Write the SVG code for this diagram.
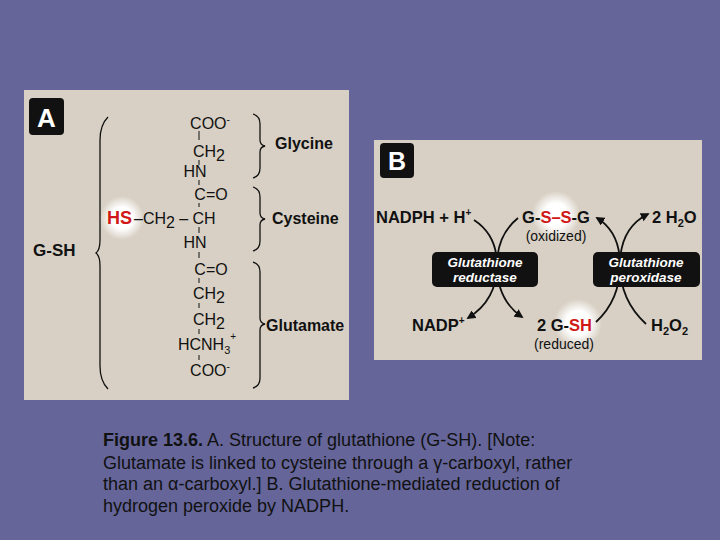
<svg xmlns="http://www.w3.org/2000/svg" width="720" height="540" viewBox="0 0 720 540">
<defs>
<style>
text{font-family:"Liberation Sans",Arial,sans-serif;fill:#111}
.c{font-size:16px;text-anchor:middle}
.b{font-weight:bold;font-size:16px}
.bb{font-weight:bold;font-size:16.5px}
.r{fill:#d01818}
.br{fill:none;stroke:#111;stroke-width:1.3}
.ar{fill:none;stroke:#111;stroke-width:1.8}
.box{fill:#111}
.bx{fill:#fff;font-weight:bold;font-style:italic;font-size:13.5px;text-anchor:middle}
.cap{font-size:18px}
</style>
<radialGradient id="g"><stop offset="0.5" stop-color="#fff"/><stop offset="1" stop-color="#fff" stop-opacity="0"/></radialGradient>
<marker id="m" viewBox="0 0 10 10" refX="8" refY="5" markerWidth="5" markerHeight="5" orient="auto-start-reverse"><path d="M0,0L10,5L0,10z" fill="#111"/></marker>
</defs>
<rect width="720" height="540" fill="#65659a"/>
<g id="panelA">
<rect x="24" y="90" width="325" height="310" fill="#d8d0c4"/>
<rect x="29" y="98" width="35" height="37" rx="4" class="box"/>
<text x="46.5" y="127" style="fill:#fff;font-weight:bold;font-size:26px;text-anchor:middle">A</text>
<text x="33" y="256" class="b" style="font-size:17px">G-SH</text>
<path class="br" d="M108,117 Q100,125 100,140 L100,240 Q100,250 96,253 Q100,256 100,266 L100,366 Q100,381 108,389"/>
<circle cx="122" cy="218" r="22" fill="url(#g)"/>
<g class="c">
<text x="210" y="129">COO<tspan dy="-6" font-size="10">-</tspan></text>
<text x="209" y="157">CH<tspan dy="4">2</tspan></text>
<text x="195" y="177">HN</text>
<text x="211" y="200">C=O</text>
<text x="204" y="224">CH</text>
<text x="195" y="248">HN</text>
<text x="211" y="275">C=O</text>
<text x="209" y="299">CH<tspan dy="4">2</tspan></text>
<text x="209" y="325">CH<tspan dy="4">2</tspan></text>
<text x="207" y="350">HCNH<tspan dy="4" font-size="11">3</tspan><tspan dy="-14" font-size="10">+</tspan></text>
<text x="210" y="376">COO<tspan dy="-6" font-size="10">-</tspan></text>
</g>
<text x="107" y="224" class="b r" style="font-size:18px">HS</text>
<text x="134" y="224" style="font-size:16px">–CH<tspan dy="4">2</tspan><tspan dy="-4"> – </tspan></text>
<g stroke="#111" stroke-width="1">
<path d="M199,131V140M199,160V165M199,180V185M199,203V207M199,227V233M199,252V258M199,278V283M199,303V308M199,329V334M199,355V360"/>
</g>
<path class="br" d="M253,114 Q260,116 260,124 L260,140 Q260,145 265,146 Q260,147 260,152 L260,168 Q260,176 253,178"/>
<path class="br" d="M253,187 Q260,189 260,197 L260,213 Q260,218 265,219 Q260,220 260,225 L260,241 Q260,249 253,251"/>
<path class="br" d="M253,262 Q260,264 260,272 L260,318 Q260,323 265,324 Q260,325 260,330 L260,378 Q260,386 253,388"/>
<text x="275" y="149" class="b">Glycine</text>
<text x="272" y="224" class="b">Cysteine</text>
<text x="266" y="331" class="b">Glutamate</text>
</g>
<g id="panelB">
<rect x="374" y="140" width="328" height="220" fill="#d8d0c4"/>
<rect x="380" y="143" width="34" height="35" rx="4" class="box"/>
<text x="397" y="170" style="fill:#fff;font-weight:bold;font-size:25px;text-anchor:middle">B</text>
<circle cx="556" cy="215" r="24" fill="url(#g)"/>
<circle cx="578" cy="323" r="24" fill="url(#g)"/>
<text x="376" y="223" class="bb">NADPH + H<tspan dy="-7" font-size="10">+</tspan></text>
<text x="556" y="223" class="bb" text-anchor="middle">G-<tspan class="r">S–S</tspan>-G</text>
<text x="556" y="241" style="font-size:14px;text-anchor:middle">(oxidized)</text>
<text x="652" y="223" class="bb">2 H<tspan dy="4" font-size="11">2</tspan><tspan dy="-4">O</tspan></text>
<text x="412" y="331" class="bb">NADP<tspan dy="-7" font-size="10">+</tspan></text>
<text x="537" y="331" class="bb">2 G-<tspan class="r">SH</tspan></text>
<text x="564" y="349" style="font-size:14px;text-anchor:middle">(reduced)</text>
<text x="651" y="331" class="bb">H<tspan dy="4" font-size="11">2</tspan><tspan dy="-4">O</tspan><tspan dy="4" font-size="11">2</tspan></text>
</g>
<g id="connectors">
<path class="ar" d="M474,220 Q497,235 497,265 Q497,300 468,318" marker-end="url(#m)"/>
<path class="ar" d="M518,218 Q497,235 497,265 Q497,300 522,317" marker-end="url(#m)"/>
<path class="ar" d="M596,322 Q620,300 620,265 Q620,232 597,218" marker-end="url(#m)"/>
<path class="ar" d="M646,324 Q620,300 620,265 Q620,228 648,214" marker-end="url(#m)"/>
</g>
<g id="reductase">
<rect x="432" y="252" width="106" height="35" rx="5" class="box"/>
<text x="485" y="267" class="bx">Glutathione</text>
<text x="485" y="282" class="bx">reductase</text>
</g>
<g id="peroxidase">
<rect x="593" y="252" width="107" height="35" rx="5" class="box"/>
<text x="646" y="267" class="bx">Glutathione</text>
<text x="646" y="282" class="bx">peroxidase</text>
</g>
<g id="caption">
<text x="103" y="446" class="cap"><tspan font-weight="bold">Figure 13.6.</tspan> A. Structure of glutathione (G-SH). [Note:</text>
<text x="103" y="469" class="cap">Glutamate is linked to cysteine through a γ-carboxyl, rather</text>
<text x="103" y="490" class="cap">than an α-carboxyl.] B. Glutathione-mediated reduction of</text>
<text x="103" y="512" class="cap">hydrogen peroxide by NADPH.</text>
</g>
</svg>
